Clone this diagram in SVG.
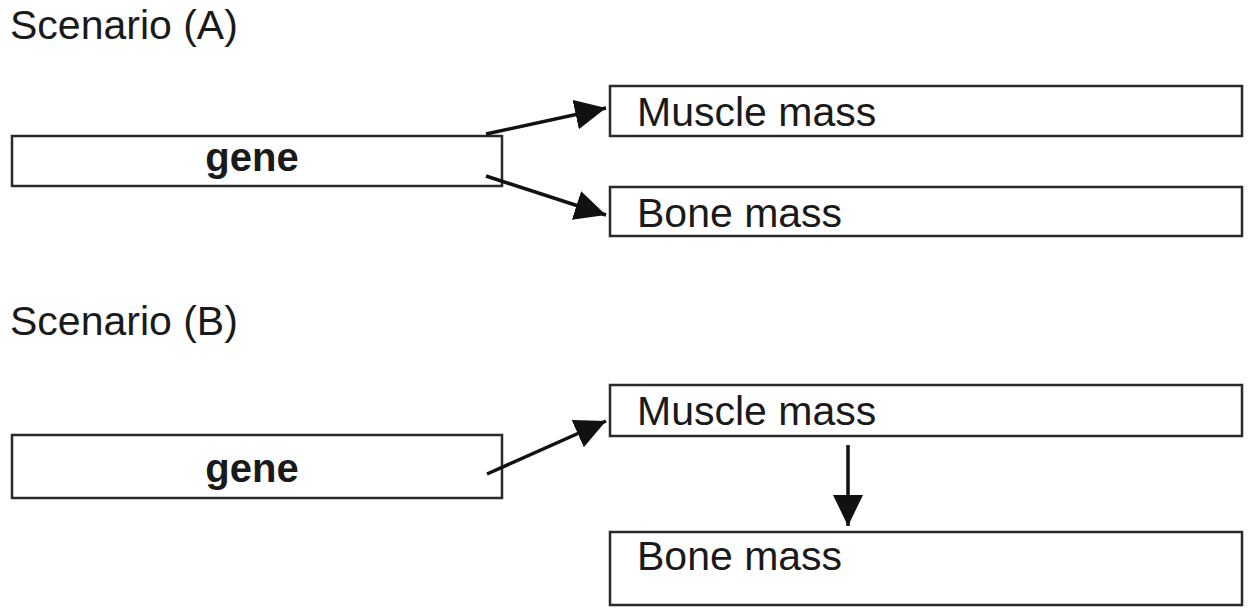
<svg xmlns="http://www.w3.org/2000/svg" width="1253" height="608" viewBox="0 0 1253 608">
<style>
.box{fill:#fff;stroke:#2a2a2a;stroke-width:2.5}
.t{font-family:"Liberation Sans",Arial,sans-serif;font-size:41px;fill:#1a1a1a}
.b{font-weight:bold;text-anchor:middle;font-size:40px}
.c{stroke:#111;stroke-width:3.5;fill:none;marker-end:url(#ah)}
</style>
<defs>
<marker id="ah" markerUnits="userSpaceOnUse" markerWidth="36" markerHeight="32" refX="31" refY="15" orient="auto">
<path d="M0,0 L31,15 L0,30 z" fill="#111"/>
</marker>
</defs>
<rect width="1253" height="608" fill="#fff"/>
<text class="t" x="10" y="39">Scenario (A)</text>
<text class="t" x="10" y="335">Scenario (B)</text>
<g id="geneA"><rect class="box" x="12" y="136" width="490" height="50"/><text class="t b" x="252" y="171">gene</text></g>
<g id="muscleA"><rect class="box" x="610" y="86" width="632" height="50"/><text class="t" x="637" y="126">Muscle mass</text></g>
<g id="boneA"><rect class="box" x="610" y="187" width="632" height="49"/><text class="t" x="637" y="227">Bone mass</text></g>
<g id="geneB"><rect class="box" x="12" y="435" width="490" height="63"/><text class="t b" x="252" y="482">gene</text></g>
<g id="muscleB"><rect class="box" x="610" y="385" width="632" height="51"/><text class="t" x="637" y="425">Muscle mass</text></g>
<g id="boneB"><rect class="box" x="610" y="532" width="632" height="73"/><text class="t" x="637" y="570">Bone mass</text></g>
<g id="connectors">
<line class="c" x1="486" y1="134" x2="606" y2="108"/>
<line class="c" x1="486" y1="176" x2="606" y2="215"/>
<line class="c" x1="487" y1="474" x2="606" y2="421"/>
<line class="c" x1="848" y1="445" x2="848" y2="526"/>
</g>
</svg>
